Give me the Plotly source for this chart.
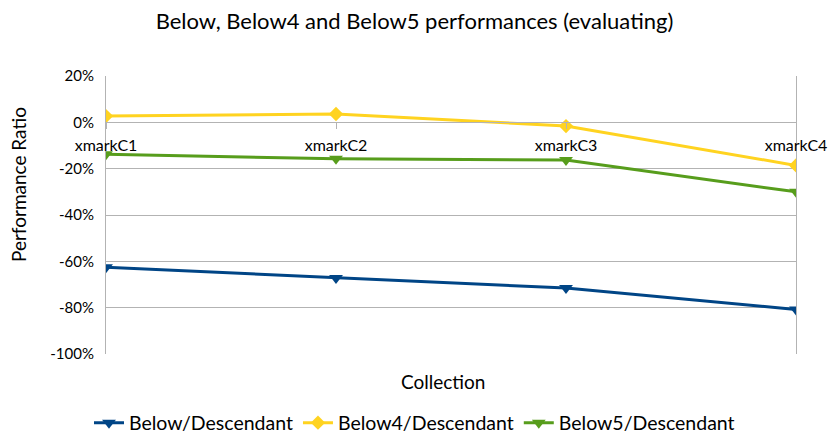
import plotly.graph_objects as go

# Categories and series (performance ratio, in percent)
categories = ["xmarkC1", "xmarkC2", "xmarkC3", "xmarkC4"]
below = [-62.6, -67.2, -71.5, -80.8]
below4 = [2.7, 3.6, -1.6, -18.6]
below5 = [-13.8, -15.7, -16.3, -30.0]

y_tick_vals = [20, 0, -20, -40, -60, -80, -100]
y_tick_text = ["20%", "0%", "-20%", "-40%", "-60%", "-80%", "-100%"]

FONT = "Lato"
GRID = "#b3b3b3"
x_idx = list(range(len(categories)))

fig = go.Figure()
fig.add_trace(go.Scatter(
    x=x_idx, y=below, name="Below/Descendant", mode="lines+markers",
    line=dict(color="#004586", width=3),
    marker=dict(symbol="triangle-down", size=12, color="#004586"),
))
fig.add_trace(go.Scatter(
    x=x_idx, y=below4, name="Below4/Descendant", mode="lines+markers",
    line=dict(color="#ffd320", width=3),
    marker=dict(symbol="diamond", size=11, color="#ffd320"),
))
fig.add_trace(go.Scatter(
    x=x_idx, y=below5, name="Below5/Descendant", mode="lines+markers",
    line=dict(color="#579d1c", width=3),
    marker=dict(symbol="triangle-down", size=12, color="#579d1c"),
))

y_min, y_max = -100, 20
zero_pos = (0 - y_min) / (y_max - y_min)

fig.update_layout(
    width=829, height=436,
    margin=dict(l=106, r=33, t=76, b=82),
    paper_bgcolor="white", plot_bgcolor="white",
    font=dict(family=FONT, size=16, color="#000000"),
    title=dict(
        text="Below, Below4 and Below5 performances (evaluating)",
        x=0.5, xanchor="center", xref="container",
        y=1 - 21 / 436, yanchor="middle", yref="container",
        font=dict(family=FONT, size=22, color="#000000"),
    ),
    xaxis=dict(
        range=[0, len(categories) - 1],
        tickvals=x_idx, ticktext=categories,
        anchor="free", position=zero_pos, automargin=False,
        showline=True, linecolor=GRID, linewidth=1,
        ticks="outside", ticklen=6, tickcolor=GRID,
        ticklabelstandoff=2,
        showgrid=False, zeroline=False,
        tickfont=dict(family=FONT, size=16),
    ),
    yaxis=dict(
        range=[y_min, y_max], automargin=False,
        tickvals=y_tick_vals, ticktext=y_tick_text,
        showline=True, mirror=True, linecolor=GRID, linewidth=1,
        showgrid=True, gridcolor=GRID, gridwidth=1,
        zeroline=False, ticks="outside", ticklen=8, tickcolor="rgba(0,0,0,0)",
        tickfont=dict(family=FONT, size=15),
    ),
    legend=dict(
        orientation="h", xref="container", x=0.5, xanchor="center",
        yref="container", y=13 / 436, yanchor="middle",
        font=dict(family=FONT, size=19.5), itemwidth=30,
        tracegroupgap=0,
    ),
    annotations=[
        dict(
            text="Collection", xref="paper", yref="paper",
            x=(443 - 106) / 690, y=(354 - 381) / 278,
            xanchor="center", yanchor="middle", showarrow=False,
            font=dict(family=FONT, size=19),
        ),
        dict(
            text="Performance Ratio", xref="paper", yref="paper",
            x=(18 - 106) / 690, y=(354 - 185) / 278, textangle=-90,
            xanchor="center", yanchor="middle", showarrow=False,
            font=dict(family=FONT, size=19),
        ),
    ],
    showlegend=True,
)

fig.write_html("out.html")
